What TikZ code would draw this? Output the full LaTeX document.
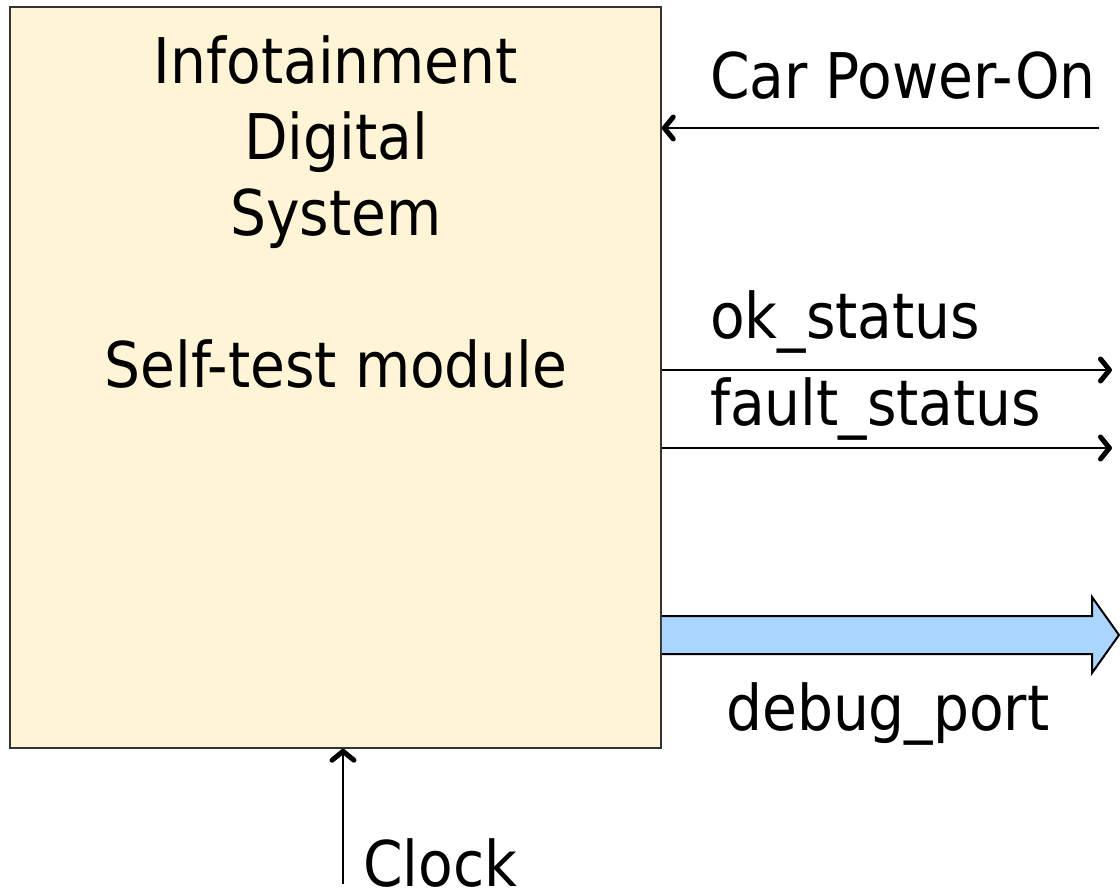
\documentclass[tikz,border=0pt]{standalone}
\usepackage{fontspec}
\setmainfont{DejaVu Sans Condensed}
\usetikzlibrary{arrows.meta}
\tikzset{
  sysbox/.style={draw=black!80,line width=1.5pt,fill=boxfill,minimum width=651pt,minimum height=741pt,inner sep=0pt},
  txt/.style={inner sep=0pt,font=\fontsize{63}{76}\selectfont},
  lbl/.style={txt,anchor=base west},
  sig/.style={line width=2.5pt,-{Straight Barb[length=9pt,width=22pt,line width=0pt 2,round]}},
  bus/.style={draw=black,line width=2pt,fill=busfill,line join=miter}
}
\definecolor{boxfill}{HTML}{FFF5D6}
\definecolor{busfill}{HTML}{A9D5FF}
\begin{document}
\begin{tikzpicture}[x=1pt,y=-1pt]
\useasboundingbox (0,0) rectangle (1120,894);
\node[sysbox] (sys) at (335.5,377.5) {};
\node[txt,align=center,anchor=base] (title) at (336,387) {Infotainment\\Digital\\System\\[76pt]Self-test module};
\node[lbl] (pwr) at (710,98) {Car Power-On};
\node[lbl] (ok) at (710,338) {ok\_status};
\node[lbl] (fault) at (710,425) {fault\_status};
\node[lbl] (dbg) at (726,730) {debug\_port};
\node[lbl] (clk) at (363,886) {Clock};
\coordinate (pwrEnd) at (1099,128);
\coordinate (okEnd) at (1112,370);
\coordinate (faultEnd) at (1112,448);
\coordinate (clkEnd) at (343,884);
\coordinate (busTip) at (1119,635);
\draw[sig] (pwrEnd) -- (pwrEnd -| sys.east);
\draw[sig] (sys.east |- okEnd) -- (okEnd);
\draw[sig] (sys.east |- faultEnd) -- (faultEnd);
\draw[sig] (clkEnd) -- (clkEnd |- sys.south);
\draw[bus] (sys.east |- 0,616) -- (1092,616) -- (1092,597) -- (busTip) -- (1092,673) -- (1092,654) -- (sys.east |- 0,654);
\end{tikzpicture}
\end{document}
